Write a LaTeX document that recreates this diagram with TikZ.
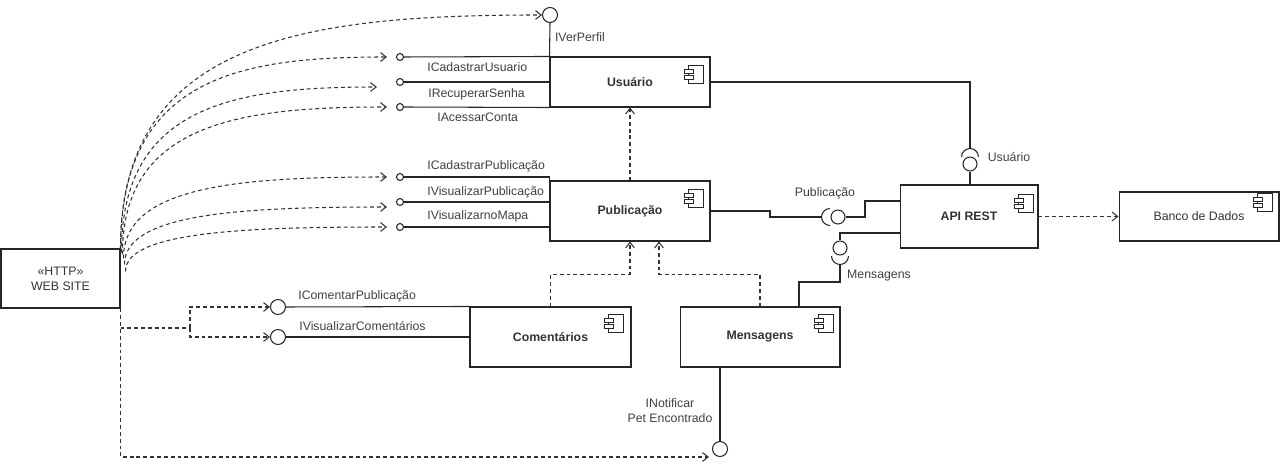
\documentclass[tikz,border=0pt]{standalone}
\usepackage{fontspec}
\setmainfont{Liberation Sans}
\usetikzlibrary{arrows.meta,calc}

% small component glyph in the upper right corner of a box
\newcommand\drawcompicon[3]{%
  \draw[iconln] ($(#1.north east)+(-#2-15,#3)$) rectangle ($(#1.north east)+(-#2,#3+18)$);
  \draw[iconln,fill=white] ($(#1.north east)+(-#2-19,#3+4)$) rectangle ($(#1.north east)+(-#2-10,#3+8)$);
  \draw[iconln,fill=white] ($(#1.north east)+(-#2-19,#3+10)$) rectangle ($(#1.north east)+(-#2-10,#3+14)$);
}

\begin{document}
\begin{tikzpicture}[x=0.02cm,y=-0.02cm,
  ln/.style={draw=black!85, line width=0.6pt},
  iconln/.style={draw=black!85, line width=0.5pt},
  comp/.style={ln, rectangle, inner sep=0, text=black!80,
    font=\fontsize{7}{8}\selectfont\bfseries},
  lolsm/.style={ln, circle, fill=white, inner sep=0, minimum size=0.14cm},
  lolbig/.style={ln, circle, fill=white, inner sep=0, minimum size=0.3cm},
  ball/.style={ln, circle, fill=white, inner sep=0, minimum size=0.28cm},
  lbl/.style={font=\fontsize{7}{8}\selectfont, text=black!75, inner sep=0},
  dep/.style={draw=black!80, line width=0.6pt, dash pattern=on 2.2pt off 1.7pt,
    -{Straight Barb[length=3.2pt,width=5pt]}},
]
\useasboundingbox (0,0) rectangle (1280,465);

% ---- components ----
\node[comp, minimum width=2.38cm, minimum height=1.18cm, align=center,
  font=\fontsize{7}{8}\selectfont] (web) at (60.5,278.5) {«HTTP»\\[0.5pt]WEB SITE};
\node[comp, minimum width=3.2cm, minimum height=1.0cm] (usuario) at (630,82) {Usuário};
\node[comp, minimum width=3.2cm, minimum height=1.2cm] (publicacao) at (630,211) {Publicação};
\node[comp, minimum width=2.76cm, minimum height=1.26cm] (api) at (969,216.5) {API REST};
\node[comp, minimum width=3.2cm, minimum height=0.98cm, font=\fontsize{7}{8}\selectfont] (banco) at (1199,216.5) {Banco de Dados};
\node[comp, minimum width=3.22cm, minimum height=1.2cm] (comentarios) at (550.5,337) {Comentários};
\node[comp, minimum width=3.2cm, minimum height=1.2cm] (mensagens) at (760,337) {Mensagens};

\drawcompicon{usuario}{7}{9}
\drawcompicon{publicacao}{7}{9}
\drawcompicon{api}{5}{10}
\drawcompicon{banco}{7}{2}
\drawcompicon{comentarios}{8}{8}
\drawcompicon{mensagens}{7}{8}

% ---- provided interfaces ----
\node[lolbig] (vp) at (550,15) {};
\node[lolsm] (lcu) at (400,57) {};
\node[lolsm] (lrs) at (400,82) {};
\node[lolsm] (lac) at (400,107) {};
\node[lolsm] (lcp) at (400,177) {};
\node[lolsm] (lvp) at (400,202) {};
\node[lolsm] (lvm) at (400,227) {};
\node[lolbig] (icp) at (278,307) {};
\node[lolbig] (ivc) at (278,337) {};
\node[lolbig] (inp) at (720,449) {};

\draw[ln] (vp.south) -- (usuario.north west);
\draw[ln] (lcu.east) -- (usuario.north west);
\draw[ln] (lrs.east) -- (usuario.west);
\draw[ln] (lac.east) -- (usuario.south west);
\draw[ln] (lcp.east) -- (lcp.east -| publicacao.west) -- (publicacao.north west);
\draw[ln] (lvp.east) -- (lvp.east -| publicacao.west);
\draw[ln] (lvm.east) -- (lvm.east -| publicacao.west);
\draw[ln] (icp.east) -- (comentarios.north west);
\draw[ln] (ivc.east) -- (comentarios.west);
\draw[ln] (inp.north) -- (inp.north |- mensagens.south);

\node[lbl] at (580,37) {IVerPerfil};
\node[lbl, anchor=west] at (427,67) {ICadastrarUsuario};
\node[lbl, anchor=west] at (428,94) {IRecuperarSenha};
\node[lbl, anchor=west] at (437,117) {IAcessarConta};
\node[lbl, anchor=west] at (427,166) {ICadastrarPublicação};
\node[lbl, anchor=west] at (427,192) {IVisualizarPublicação};
\node[lbl, anchor=west] at (427,216) {IVisualizarnoMapa};
\node[lbl, anchor=west] at (298,296) {IComentarPublicação};
\node[lbl, anchor=west] at (299,326) {IVisualizarComentários};
\node[lbl, align=center, font=\fontsize{7}{8.6}\selectfont] at (670,411) {INotificar\\Pet Encontrado};

% ---- required interfaces of the API ----
\node[ball] (bu) at (970,164) {};
\node[ball] (bp) at (838,217) {};
\node[ball] (bm) at (840,248) {};
\coordinate (su) at (970,148.5);
\coordinate (sp) at (821.5,217);
\coordinate (sm) at (840,264.5);

% sockets
\draw[ln] (961.5,157) arc[start angle=180, end angle=0, radius=0.17cm];
\draw[ln] (830,208.5) arc[start angle=90, end angle=270, radius=0.17cm];
\draw[ln] (831.5,256) arc[start angle=180, end angle=360, radius=0.17cm];

\draw[ln] (usuario.east) -| (su);
\draw[ln] (bu.south) -- (bu.south |- api.north);
\draw[ln] (publicacao.east) -- (770,211) -- (770,217) -- (sp);
\draw[ln] (bp.east) -- (865,217) -- (865,201) -- (api.west |- 0,201);
\draw[ln] (api.west |- 0,233) -| (bm.north);
\draw[ln] (sm) -- (840,282) -- (799,282) -- (799,307);

\node[lbl] at (1009,157) {Usuário};
\node[lbl] at (825,193) {Publicação};
\node[lbl] at (879,276) {Mensagens};

% ---- dependencies ----
\draw[dep] (publicacao.north) -- (usuario.south);
\draw[dep] (comentarios.north) |- ($(publicacao.south)+(0,33)$) -- (publicacao.south);
\draw[dep] (mensagens.north) |- ($(publicacao.south)+(29,33)$) -- ($(publicacao.south)+(29,0)$);
\draw[dep] (api.east) -- (banco.west);

% web site usage
\coordinate (s1) at ($(web.north east)+(0,0)$);
\coordinate (s2) at ($(web.north east)+(0,2)$);
\coordinate (s3) at ($(web.north east)+(1,4)$);
\coordinate (s4) at ($(web.north east)+(2,6)$);
\coordinate (s5) at ($(web.north east)+(3,10)$);
\coordinate (s6) at ($(web.north east)+(4,16)$);
\coordinate (s7) at ($(web.north east)+(5,23)$);

\draw[dep] (s1) .. controls (120,38) and (309,15) .. (vp.west);
\draw[dep] (s2) .. controls (120,76) and (241,57) .. ($(lcu.west)+(-9,0)$);
\draw[dep] (s3) .. controls (121,104) and (237,87) .. ($(lrs.west)+(-19,5)$);
\draw[dep] (s4) .. controls (122,122) and (242,107) .. ($(lac.west)+(-9,0)$);
\draw[dep] (s5) .. controls (123,185) and (242,177) .. ($(lcp.west)+(-9,0)$);
\draw[dep] (s6) .. controls (124,213) and (243,207) .. ($(lvp.west)+(-9,5)$);
\draw[dep] (s7) .. controls (125,232) and (243,227) .. ($(lvm.west)+(-9,0)$);

\coordinate (fork) at (190,328);
\draw[dep, -] (web.south east |- fork) -- (fork);
\draw[dep] (fork) |- (icp.west);
\draw[dep] (fork) |- (ivc.west);
\draw[dep] (web.south east) |- ($(inp.west)+(-3,8)$);
\end{tikzpicture}
\end{document}
